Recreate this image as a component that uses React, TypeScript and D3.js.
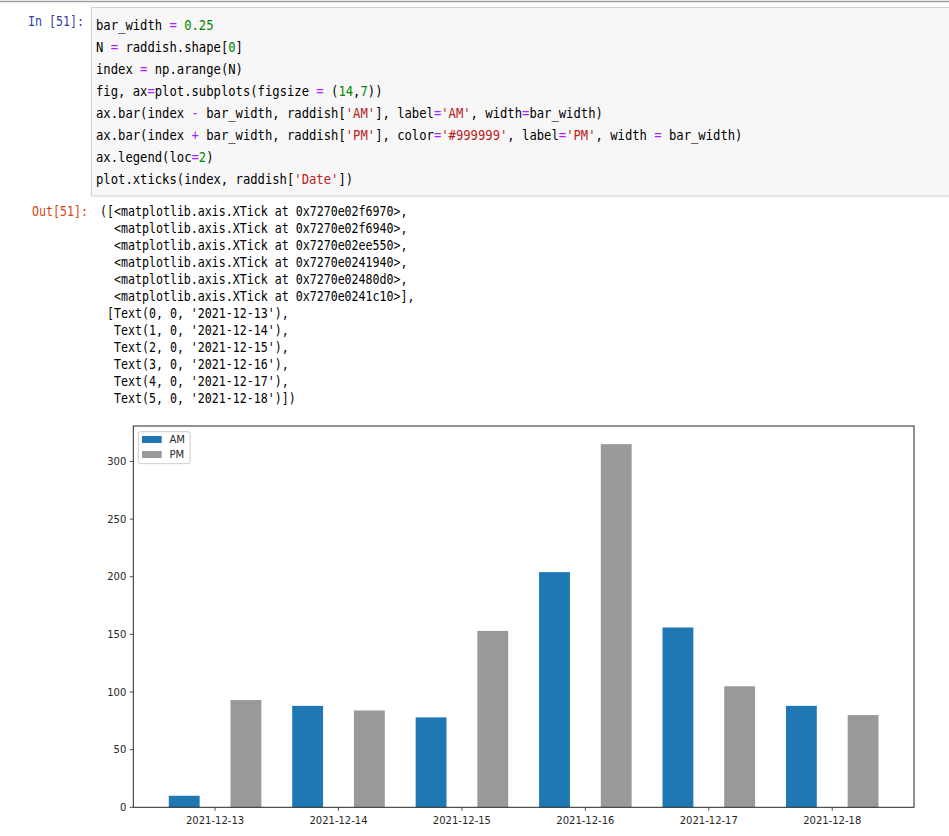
import { useEffect } from 'react';
import * as d3 from 'd3';

// chart data
const dates = ['2021-12-13', '2021-12-14', '2021-12-15', '2021-12-16', '2021-12-17', '2021-12-18'];
const amValues = [10, 88, 78, 204, 156, 88];
const pmValues = [93, 84, 153, 315, 105, 80];
const yTicks = [0, 50, 100, 150, 200, 250, 300];
const BAR_WIDTH = 0.25;

// notebook text
type Tok = [string, string?];
const codeLines: Tok[][] = [
  [['bar_width '], ['=', 'op'], [' '], ['0.25', 'num']],
  [['N '], ['=', 'op'], [' raddish.shape['], ['0', 'num'], [']']],
  [['index '], ['=', 'op'], [' np.arange(N)']],
  [['fig, ax'], ['=', 'op'], ['plot.subplots(figsize '], ['=', 'op'], [' ('], ['14', 'num'], [','], ['7', 'num'], ['))']],
  [['ax.bar(index '], ['-', 'op'], [' bar_width, raddish['], ["'AM'", 'str'], ['], label'], ['=', 'op'], ["'AM'", 'str'], [', width'], ['=', 'op'], ['bar_width)']],
  [['ax.bar(index '], ['+', 'op'], [' bar_width, raddish['], ["'PM'", 'str'], ['], color'], ['=', 'op'], ["'#999999'", 'str'], [', label'], ['=', 'op'], ["'PM'", 'str'], [', width '], ['=', 'op'], [' bar_width)']],
  [['ax.legend(loc'], ['=', 'op'], ['2', 'num'], [')']],
  [['plot.xticks(index, raddish['], ["'Date'", 'str'], ['])']],
];
const tickAddrs = ['0x7270e02f6970', '0x7270e02f6940', '0x7270e02ee550', '0x7270e0241940', '0x7270e02480d0', '0x7270e0241c10'];

const TOK_COLOR: Record<string, string> = { op: '#aa22ff', num: '#008800', str: '#ba2121' };
const MONO = 'DejaVu Sans Mono, monospace';

const W = 949;
const H = 836;
const PLOT = { left: 133.3, right: 914, top: 426, bottom: 807.3 };

export default function App() {
  useEffect(() => {
    document.body.style.margin = '0';
  }, []);

  const n = dates.length;
  // bars span index-1.5w .. index+1.5w, plus matplotlib's 5% margins
  const xMin = -1.5 * BAR_WIDTH;
  const xMax = n - 1 + 1.5 * BAR_WIDTH;
  const x = d3.scaleLinear().domain([xMin - (xMax - xMin) * 0.05, xMax + (xMax - xMin) * 0.05]).range([PLOT.left, PLOT.right]);
  const yMax = (d3.max([...amValues, ...pmValues]) as number) * 1.05;
  const y = d3.scaleLinear().domain([0, yMax]).range([PLOT.bottom, PLOT.top]);

  const outputLines: string[] = [
    ...tickAddrs.map((a, i) => `${i === 0 ? '([' : '  '}<matplotlib.axis.XTick at ${a}>${i === tickAddrs.length - 1 ? '],' : ','}`),
    ...dates.map((d, i) => `${i === 0 ? ' [' : '  '}Text(${i}, 0, '${d}')${i === dates.length - 1 ? '])' : ','}`),
  ];

  const codeScale = 7.35 / (14 * 0.602);
  const outScale = 7.0 / (13.5 * 0.602);
  const bw = x(BAR_WIDTH) - x(0);

  return (
    <svg width={W} height={H} style={{ display: 'block' }}>
      <rect width={W} height={H} fill="#fff" />
      <line x1={0} x2={W} y1={1.5} y2={1.5} stroke="#9e9e9e" strokeWidth={1.5} />

      {/* input cell */}
      <text x={84} y={26} textAnchor="end" fontFamily={MONO} fontSize={13.5} fill="#303f9f"
        transform={`translate(84,0) scale(${outScale},1) translate(-84,0)`}>In [51]:</text>
      <rect x={91.5} y={7.5} width={W} height={188.5} fill="#f7f7f7" stroke="#cfcfcf" />
      <g transform={`translate(96,0) scale(${codeScale},1)`}>
        {codeLines.map((line, i) => (
          <text key={i} x={0} y={30 + i * 21.95} fontFamily={MONO} fontSize={14} fill="#000" xmlSpace="preserve">
            {line.map(([t, k], j) => (
              <tspan key={j} fill={k ? TOK_COLOR[k] : '#000'}>{t}</tspan>
            ))}
          </text>
        ))}
      </g>

      {/* output cell */}
      <text x={88} y={216} textAnchor="end" fontFamily={MONO} fontSize={13.5} fill="#d84315"
        transform={`translate(88,0) scale(${outScale},1) translate(-88,0)`}>Out[51]:</text>
      <g transform={`translate(100,0) scale(${outScale},1)`}>
        {outputLines.map((l, i) => (
          <text key={i} x={0} y={216 + i * 17} fontFamily={MONO} fontSize={13.5} fill="#000" style={{ whiteSpace: 'pre' }}>{l}</text>
        ))}
      </g>

      {/* chart */}
      <g fontFamily="DejaVu Sans, sans-serif" fontSize={10} fill="#262626">
        {dates.map((d, i) => (
          <g key={d}>
            <rect x={x(i - BAR_WIDTH - BAR_WIDTH / 2)} y={y(amValues[i])}
              width={bw} height={y(0) - y(amValues[i])} fill="#1f77b4" />
            <rect x={x(i + BAR_WIDTH - BAR_WIDTH / 2)} y={y(pmValues[i])}
              width={bw} height={y(0) - y(pmValues[i])} fill="#999999" />
          </g>
        ))}
        <rect x={PLOT.left} y={PLOT.top} width={PLOT.right - PLOT.left} height={PLOT.bottom - PLOT.top}
          fill="none" stroke="#262626" strokeWidth={1} />
        {yTicks.map(t => (
          <g key={t}>
            <line x1={PLOT.left - 3.5} x2={PLOT.left} y1={y(t)} y2={y(t)} stroke="#262626" strokeWidth={0.8} />
            <text x={PLOT.left - 7} y={y(t)} dy="0.35em" textAnchor="end">{t}</text>
          </g>
        ))}
        {dates.map((d, i) => (
          <g key={d}>
            <line x1={x(i)} x2={x(i)} y1={PLOT.bottom} y2={PLOT.bottom + 3.5} stroke="#262626" strokeWidth={0.8} />
            <text x={x(i)} y={PLOT.bottom + 16.5} textAnchor="middle">{d}</text>
          </g>
        ))}

        {/* legend */}
        <rect x={138.3} y={431.7} width={51.7} height={32} rx={2} fill="#fff" fillOpacity={0.8} stroke="#cccccc" strokeWidth={1} />
        <rect x={142} y={436} width={19.7} height={7} fill="#1f77b4" />
        <text x={169.5} y={439.5} dy="0.35em">AM</text>
        <rect x={142} y={451} width={19.7} height={7} fill="#999999" />
        <text x={169.5} y={454.5} dy="0.35em">PM</text>
      </g>
    </svg>
  );
}
